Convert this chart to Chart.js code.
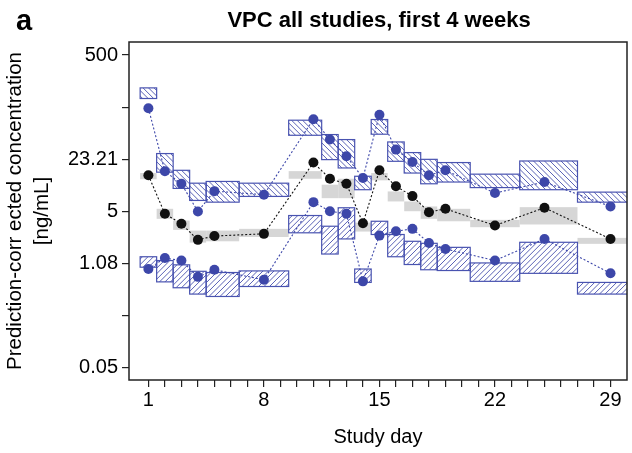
<!DOCTYPE html>
<html>
<head>
<meta charset="utf-8">
<script src="https://cdn.jsdelivr.net/npm/chart.js@4.4.1/dist/chart.umd.min.js"></script>
<style>
  html, body { margin: 0; padding: 0; background: #fff; }
  #wrap { width: 632px; height: 453px; }
</style>
</head>
<body>
<div id="wrap"><canvas id="vpc" width="632" height="453"></canvas></div>
<script>
// Study days (bin centres) and bin edges
const days  = [1, 2, 3, 4, 5, 8, 11, 12, 13, 14, 15, 16, 17, 18, 19, 22, 25, 29];
const binLo = [0.5, 1.5, 2.5, 3.5, 4.5, 6.5, 9.5, 11.5, 12.5, 13.5, 14.5, 15.5, 16.5, 17.5, 18.5, 20.5, 23.5, 27];
const binHi = [1.5, 2.5, 3.5, 4.5, 6.5, 9.5, 11.5, 12.5, 13.5, 14.5, 15.5, 16.5, 17.5, 18.5, 20.5, 23.5, 27, 31];

// Observed percentiles (dots)
const obsHi  = [104.6, 16.3, 11.3, 5.0, 9.1, 8.2, 75.6, 41.5, 25.4, 13.4, 86.3, 30.9, 21.4, 14.5, 16.8, 8.6, 11.9, 5.8];
const obsMed = [14.5, 4.67, 3.48, 2.17, 2.43, 2.59, 21.1, 13.1, 11.3, 3.54, 16.8, 10.5, 7.86, 4.9, 5.41, 3.31, 5.58, 2.23];
const obsLo  = [0.92, 1.27, 1.18, 0.73, 0.90, 0.67, 6.58, 5.04, 4.67, 0.64, 2.46, 2.80, 3.00, 1.98, 1.66, 1.18, 2.23, 0.81];

// Simulated confidence intervals (boxes)
const ciHiTop  = [190, 27.5, 16.8, 11.5, 12.1, 11.5, 73.4, 48.1, 41.5, 14.1, 74.9, 38.7, 28.3, 23.2, 21.1, 15.0, 22.1, 8.84];
const ciHiBot  = [139, 15.9, 9.86, 6.92, 6.58, 7.79, 47.1, 23.0, 18.0, 9.49, 48.6, 21.9, 15.5, 11.3, 11.9, 10.1, 9.49, 6.58];
const ciMedTop = [15.5, 5.41, 3.83, 2.85, 2.85, 3.00, 16.4, 11.0, 13.1, 3.61, 15.5, 9.02, 6.72, 5.80, 5.41, 3.91, 5.68, 2.30];
const ciMedBot = [12.9, 4.03, 2.91, 2.00, 2.08, 2.36, 13.1, 7.40, 7.40, 2.77, 12.5, 6.72, 5.04, 4.03, 3.75, 3.15, 3.41, 1.93];
const ciLoTop  = [1.32, 1.18, 1.04, 0.86, 0.83, 0.87, 4.44, 3.24, 5.58, 0.92, 3.75, 2.54, 2.08, 1.96, 1.74, 1.10, 2.02, 0.62];
const ciLoBot  = [0.97, 0.63, 0.53, 0.44, 0.41, 0.55, 2.67, 1.43, 2.23, 0.62, 2.54, 1.32, 1.05, 0.90, 0.88, 0.64, 0.81, 0.44];

// Axis ticks
const yTicks  = [0.05, 0.2321, 1.077, 5, 23.21, 107.7, 500];
const yLabels = ['0.05', '', '1.08', '5', '23.21', '', '500'];
const xTicks  = Array.from({length: 29}, (_, i) => i + 1);
const xLabels = [1, 8, 15, 22, 29];

const FONT = "'Liberation Sans', Arial, Helvetica, sans-serif";
const blue = '#3d47a9';
const boxBlue = '#4953b0';
const gray = '#d6d6d6';

const toPts = arr => days.map((d, i) => ({x: d, y: arr[i]}));

function hatchBox(ctx, x0, y0, x1, y1, dir) {
    const h = y1 - y0, s = 5.5;
    ctx.save();
    ctx.beginPath();
    ctx.rect(x0, y0, x1 - x0, h);
    ctx.clip();
    ctx.strokeStyle = 'rgba(61,71,169,0.85)';
    ctx.lineWidth = 1;
    ctx.beginPath();
    for (let c = Math.floor((x0 - h) / s) * s; c < x1 + h; c += s) {
        if (dir > 0) { // '/'
            ctx.moveTo(c, y1); ctx.lineTo(c + h, y0);
        } else {       // '\'
            ctx.moveTo(c, y0); ctx.lineTo(c + h, y1);
        }
    }
    ctx.stroke();
    ctx.restore();
    ctx.strokeStyle = boxBlue;
    ctx.lineWidth = 1.2;
    ctx.strokeRect(x0, y0, x1 - x0, h);
}

// Gray median boxes and hatched percentile boxes
const binPlugin = {
    id: 'bins',
    beforeDatasetsDraw(chart) {
        const {ctx, chartArea: a, scales: {x, y}} = chart;
        ctx.save();
        ctx.beginPath();
        ctx.rect(a.left, a.top, a.right - a.left, a.bottom - a.top);
        ctx.clip();
        days.forEach((d, i) => {
            const x0 = x.getPixelForValue(binLo[i]), x1 = x.getPixelForValue(binHi[i]);
            const t = y.getPixelForValue(ciMedTop[i]), b = y.getPixelForValue(ciMedBot[i]);
            ctx.fillStyle = gray;
            ctx.fillRect(x0, t, x1 - x0, b - t);
        });
        days.forEach((d, i) => {
            const x0 = x.getPixelForValue(binLo[i]), x1 = x.getPixelForValue(binHi[i]);
            hatchBox(ctx, x0, y.getPixelForValue(ciHiTop[i]), x1, y.getPixelForValue(ciHiBot[i]), -1);
            hatchBox(ctx, x0, y.getPixelForValue(ciLoTop[i]), x1, y.getPixelForValue(ciLoBot[i]), 1);
        });
        ctx.restore();
    },
    afterDraw(chart) {
        const {ctx, chartArea: a} = chart;
        ctx.save();
        // frame
        ctx.strokeStyle = '#222';
        ctx.lineWidth = 1.5;
        ctx.strokeRect(a.left, a.top, a.right - a.left, a.bottom - a.top);
        // title and panel letter
        ctx.fillStyle = '#000';
        ctx.textBaseline = 'alphabetic';
        ctx.textAlign = 'center';
        ctx.font = 'bold 22px ' + FONT;
        ctx.fillText('VPC all studies, first 4 weeks', (a.left + a.right) / 2 + 1, 27);
        ctx.textAlign = 'left';
        ctx.font = 'bold 29px ' + FONT;
        ctx.fillText('a', 16, 30);
        ctx.restore();
    }
};

const lineStyle = color => ({
    borderColor: color,
    backgroundColor: color,
    borderWidth: 1.1,
    borderDash: [2, 2],
    pointRadius: 5,
    pointBorderWidth: 0,
    pointBackgroundColor: color,
    showLine: true
});

new Chart(document.getElementById('vpc'), {
    type: 'scatter',
    data: {
        datasets: [
            {label: 'obs 95th', data: toPts(obsHi), ...lineStyle(blue)},
            {label: 'obs 5th', data: toPts(obsLo), ...lineStyle(blue)},
            {label: 'obs median', data: toPts(obsMed), ...lineStyle('#111')}
        ]
    },
    options: {
        responsive: false,
        animation: false,
        layout: {padding: {top: 42, right: 2, left: 0, bottom: 0}},
        plugins: {legend: {display: false}, tooltip: {enabled: false}},
        scales: {
            x: {
                type: 'linear',
                min: -0.175,
                max: 30,
                afterBuildTicks: s => { s.ticks = xTicks.map(v => ({value: v})); },
                afterFit: s => { s.height = 73; s.paddingLeft = 0; s.paddingRight = 0; },
                ticks: {
                    autoSkip: false,
                    maxRotation: 0,
                    padding: 1,
                    color: '#000',
                    font: {family: FONT, size: 20},
                    callback: v => xLabels.includes(v) ? String(v) : ''
                },
                grid: {display: true, drawOnChartArea: false, drawTicks: true, tickLength: 7, color: '#222', lineWidth: 1.2},
                border: {display: false},
                title: {display: true, text: 'Study day', color: '#000', font: {family: FONT, size: 20}, padding: {top: 0, bottom: 4}}
            },
            y: {
                type: 'logarithmic',
                min: 0.0351,
                max: 733,
                afterBuildTicks: s => { s.ticks = yTicks.map(v => ({value: v})); },
                afterFit: s => { s.width = 129; s.paddingTop = 0; s.paddingBottom = 0; },
                ticks: {
                    autoSkip: false,
                    padding: 4,
                    color: '#000',
                    font: {family: FONT, size: 20},
                    callback: (v, i) => yLabels[i]
                },
                grid: {display: true, drawOnChartArea: false, drawTicks: true, tickLength: 7, color: '#222', lineWidth: 1.2},
                border: {display: false},
                title: {
                    display: true,
                    text: ['Prediction-corr ected concentration', '[ng/mL]'],
                    color: '#000',
                    font: {family: FONT, size: 20.5, lineHeight: 1.3},
                    padding: {top: 2, bottom: 0}
                }
            }
        }
    },
    plugins: [binPlugin]
});
</script>
</body>
</html>
